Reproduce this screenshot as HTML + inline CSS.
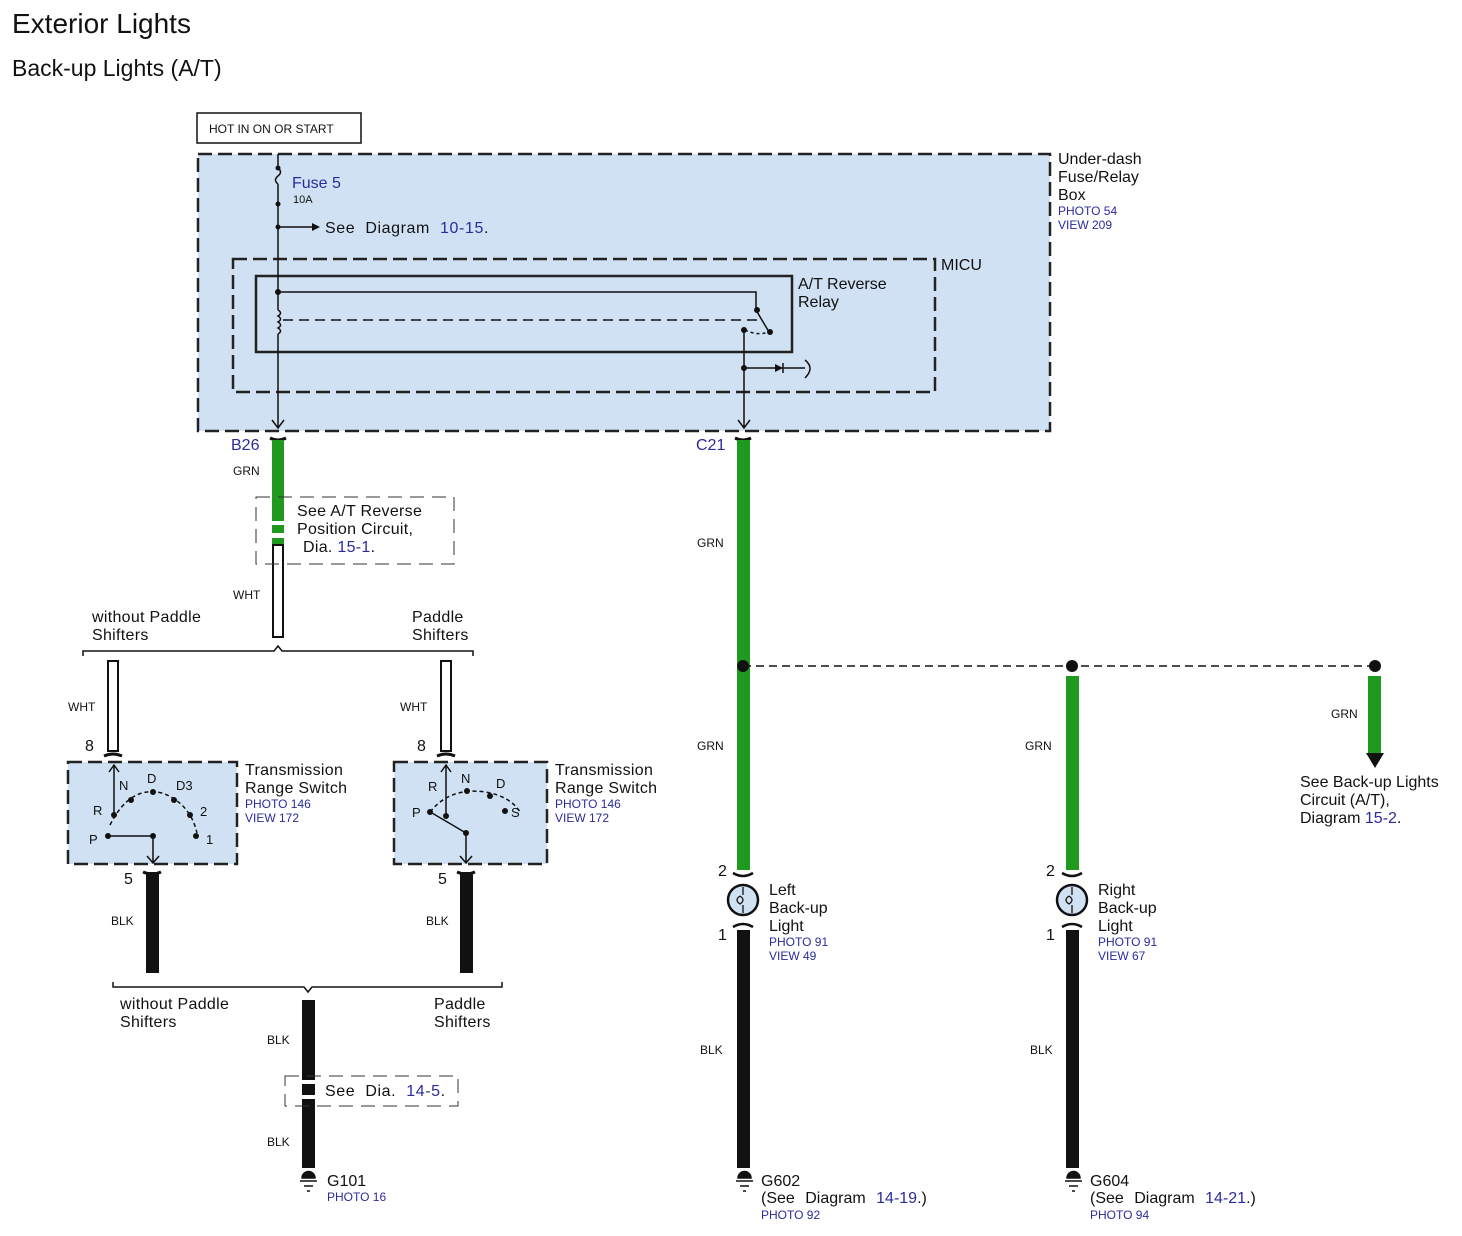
<!DOCTYPE html>
<html><head><meta charset="utf-8"><style>
html,body{margin:0;padding:0;background:#fff}
svg text{font-family:"Liberation Sans",sans-serif;fill:#111}
.b{fill:#2b2b9c}
</style></head><body>
<svg width="1462" height="1231" viewBox="0 0 1462 1231" xmlns="http://www.w3.org/2000/svg">
<text x="12" y="33" font-size="28">Exterior Lights</text>
<text x="12" y="76" font-size="23">Back-up Lights (A/T)</text>
<rect x="197" y="113" width="164" height="30" fill="#fff" stroke="#111" stroke-width="1.5"/>
<text x="209" y="133" font-size="12">HOT IN ON OR START</text>
<rect x="198" y="154" width="852" height="277" fill="#cfe1f3" stroke="#222" stroke-width="2.5" stroke-dasharray="14,6"/>
<rect x="233" y="259" width="702" height="133" fill="none" stroke="#222" stroke-width="2.5" stroke-dasharray="14,6"/>
<rect x="256" y="276" width="536" height="76" fill="none" stroke="#222" stroke-width="2.5"/>
<text x="1058" y="164" font-size="16">Under-dash</text>
<text x="1058" y="182" font-size="16">Fuse/Relay</text>
<text x="1058" y="200" font-size="16">Box</text>
<text x="1058" y="215" font-size="12" class="b">PHOTO 54</text>
<text x="1058" y="229" font-size="12" class="b">VIEW 209</text>
<text x="941" y="270" font-size="16">MICU</text>
<text x="798" y="289" font-size="16">A/T Reverse</text>
<text x="798" y="307" font-size="16">Relay</text>
<text x="292" y="188" font-size="16" class="b">Fuse 5</text>
<text x="293" y="203" font-size="11">10A</text>
<text x="325" y="233" font-size="16" letter-spacing="0.6" word-spacing="5">See Diagram <tspan class="b">10-15</tspan>.</text>
<g stroke="#111" stroke-width="1.5" fill="none">
<path d="M278 154 V168 M278 168 q5 4 0 8 q-5 4 0 8 M278 184 V310 M278 310 q5 3 0 6 q5 3 0 6 q5 3 0 6 q5 3 0 6 M278 334 V428"/>
<path d="M278 227 H312"/>
<path d="M278 292 H756 V310 L769 332"/>
<path d="M283 320 H760" stroke-dasharray="10,6"/>
<path d="M745 330 q12 6 24 2" stroke-dasharray="3,3"/>
<path d="M744 330 V428 M744 368 H805 M805 360 q10 8 0 18"/>
<path d="M272 420 L278 428 L284 420 M738 420 L744 428 L750 420"/>
</g>
<path d="M312 223 L320 227 L312 231Z" fill="#111"/>
<path d="M775 364 L783 368 L775 372Z" fill="#111"/><path d="M783 363 V373" stroke="#111" stroke-width="1.5"/>
<g fill="#111"><circle cx="278" cy="168" r="2.5"/><circle cx="278" cy="204" r="2.5"/><circle cx="278" cy="227" r="2.5"/><circle cx="278" cy="292" r="3"/><circle cx="757" cy="310" r="3"/><circle cx="770" cy="332" r="3"/><circle cx="744" cy="330" r="3"/><circle cx="744" cy="368" r="3"/></g>
<text x="231" y="450" font-size="16" class="b">B26</text>
<text x="233" y="475" font-size="12">GRN</text>
<path d="M270 438 q8 4 16 0" stroke="#111" stroke-width="3" fill="none"/>
<rect x="272" y="440" width="12" height="81" fill="#1f9a1f"/>
<rect x="272" y="525" width="12" height="8" fill="#1f9a1f"/>
<rect x="272" y="538" width="12" height="6" fill="#1f9a1f"/>
<rect x="273" y="545" width="10" height="92" fill="#fff" stroke="#111" stroke-width="2"/>
<rect x="256" y="497" width="198" height="67" fill="none" stroke="#333" stroke-width="1" stroke-dasharray="14,8"/>
<text x="297" y="516" font-size="16" letter-spacing="0.3">See A/T Reverse</text>
<text x="297" y="534" font-size="16" letter-spacing="0.3">Position Circuit,</text>
<text x="303" y="552" font-size="16" letter-spacing="0.3">Dia. <tspan class="b">15-1</tspan>.</text>
<text x="233" y="599" font-size="12">WHT</text>
<text x="92" y="622" font-size="16" letter-spacing="0.3">without Paddle</text>
<text x="92" y="640" font-size="16" letter-spacing="0.3">Shifters</text>
<text x="412" y="622" font-size="16" letter-spacing="0.3">Paddle</text>
<text x="412" y="640" font-size="16" letter-spacing="0.3">Shifters</text>
<path d="M83 656 V651 H274 L278 646 L282 651 H473 V656" stroke="#111" stroke-width="1.5" fill="none"/>
<rect x="108" y="661" width="10" height="90" fill="#fff" stroke="#111" stroke-width="2"/>
<rect x="441" y="661" width="10" height="90" fill="#fff" stroke="#111" stroke-width="2"/>
<path d="M104 756 q9 -4 18 0 M437 756 q9 -4 18 0" stroke="#111" stroke-width="3" fill="none"/>
<text x="68" y="711" font-size="12">WHT</text>
<text x="400" y="711" font-size="12">WHT</text>
<text x="85" y="751" font-size="16">8</text>
<text x="417" y="751" font-size="16">8</text>
<rect x="68" y="762" width="169" height="102" fill="#cfe1f3" stroke="#222" stroke-width="2.5" stroke-dasharray="14,6"/>
<rect x="394" y="762" width="153" height="102" fill="#cfe1f3" stroke="#222" stroke-width="2.5" stroke-dasharray="14,6"/>
<g stroke="#111" stroke-width="1.5" fill="none">
<path d="M114 815 V765 M109 772 L114 765 L119 772"/>
<path d="M110 825 q20 -40 52 -32 q28 10 35 40" stroke-dasharray="4,3"/>
<path d="M108 836 H153 V862 M147 856 L153 863 L159 856"/>
<path d="M446 816 V765 M441 772 L446 765 L451 772"/>
<path d="M430 812 q20 -25 55 -20 q25 4 35 20" stroke-dasharray="4,3"/>
<path d="M432 813 L466 833 V862 M460 856 L466 863 L472 856"/>
</g>
<g fill="#111">
<circle cx="114" cy="815" r="3"/><circle cx="131" cy="800" r="3"/><circle cx="153" cy="792" r="3"/><circle cx="174" cy="800" r="3"/><circle cx="190" cy="815" r="3"/><circle cx="196" cy="836" r="3"/><circle cx="108" cy="836" r="3"/><circle cx="153" cy="836" r="3"/>
<circle cx="446" cy="816" r="3"/><circle cx="467" cy="791" r="3"/><circle cx="490" cy="796" r="3"/><circle cx="505" cy="811" r="3"/><circle cx="430" cy="812" r="3"/><circle cx="466" cy="833" r="3"/>
</g>
<g font-size="13">
<text x="119" y="790">N</text><text x="147" y="783">D</text><text x="176" y="790">D3</text><text x="93" y="815">R</text><text x="200" y="816">2</text><text x="89" y="844">P</text><text x="206" y="844">1</text>
<text x="461" y="783">N</text><text x="496" y="788">D</text><text x="428" y="791">R</text><text x="412" y="817">P</text><text x="511" y="817">S</text>
</g>
<text x="245" y="775" font-size="16" letter-spacing="0.3">Transmission</text>
<text x="245" y="793" font-size="16" letter-spacing="0.3">Range Switch</text>
<text x="245" y="808" font-size="12" class="b">PHOTO 146</text>
<text x="245" y="822" font-size="12" class="b">VIEW 172</text>
<text x="555" y="775" font-size="16" letter-spacing="0.3">Transmission</text>
<text x="555" y="793" font-size="16" letter-spacing="0.3">Range Switch</text>
<text x="555" y="808" font-size="12" class="b">PHOTO 146</text>
<text x="555" y="822" font-size="12" class="b">VIEW 172</text>
<text x="124" y="884" font-size="16">5</text>
<text x="438" y="884" font-size="16">5</text>
<path d="M143 872 q9 4 18 0 M457 872 q9 4 18 0" stroke="#111" stroke-width="3" fill="none"/>
<rect x="146" y="872" width="13" height="101" fill="#111"/>
<rect x="460" y="872" width="13" height="101" fill="#111"/>
<text x="111" y="925" font-size="12">BLK</text>
<text x="426" y="925" font-size="12">BLK</text>
<path d="M113 982 V987 H304 L308 992 L312 987 H502 V982" stroke="#111" stroke-width="1.5" fill="none"/>
<text x="120" y="1009" font-size="16" letter-spacing="0.3">without Paddle</text>
<text x="120" y="1027" font-size="16" letter-spacing="0.3">Shifters</text>
<text x="434" y="1009" font-size="16" letter-spacing="0.3">Paddle</text>
<text x="434" y="1027" font-size="16" letter-spacing="0.3">Shifters</text>
<rect x="302" y="1000" width="13" height="80" fill="#111"/>
<rect x="302" y="1084" width="13" height="11" fill="#111"/>
<rect x="302" y="1099" width="13" height="69" fill="#111"/>
<rect x="285" y="1076" width="173" height="30" fill="none" stroke="#333" stroke-width="1" stroke-dasharray="14,8"/>
<text x="325" y="1096" font-size="16" letter-spacing="0.6" word-spacing="5">See Dia. <tspan class="b">14-5</tspan>.</text>
<text x="267" y="1044" font-size="12">BLK</text>
<text x="267" y="1146" font-size="12">BLK</text>
<g fill="#111" stroke="#111" stroke-width="1.5">
<path d="M302 1178 a6.5 6.5 0 0 1 13 0Z"/><path d="M300 1181 H317 M304 1186 H313 M307 1191 H310" fill="none"/>
<path d="M738 1178 a6.5 6.5 0 0 1 13 0Z"/><path d="M736 1181 H753 M740 1186 H749 M743 1191 H746" fill="none"/>
<path d="M1067 1178 a6.5 6.5 0 0 1 13 0Z"/><path d="M1065 1181 H1082 M1069 1186 H1078 M1072 1191 H1075" fill="none"/>
</g>
<text x="327" y="1186" font-size="16">G101</text>
<text x="327" y="1201" font-size="12" class="b">PHOTO 16</text>
<text x="696" y="450" font-size="16" class="b">C21</text>
<path d="M735 438 q8 4 16 0" stroke="#111" stroke-width="3" fill="none"/>
<rect x="737" y="440" width="13" height="430" fill="#1f9a1f"/>
<text x="697" y="547" font-size="12">GRN</text>
<text x="697" y="750" font-size="12">GRN</text>
<path d="M743 666 H1375" stroke="#111" stroke-width="1.5" stroke-dasharray="8,5"/>
<circle cx="743" cy="666" r="6" fill="#111"/><circle cx="1072" cy="666" r="6" fill="#111"/><circle cx="1375" cy="666" r="6" fill="#111"/>
<rect x="1066" y="676" width="13" height="194" fill="#1f9a1f"/>
<rect x="1368" y="676" width="13" height="78" fill="#1f9a1f"/>
<path d="M1366 753 H1384 L1375 768Z" fill="#111"/>
<text x="1025" y="750" font-size="12">GRN</text>
<text x="1331" y="718" font-size="12">GRN</text>
<text x="1300" y="787" font-size="16">See Back-up Lights</text>
<text x="1300" y="805" font-size="16">Circuit (A/T),</text>
<text x="1300" y="823" font-size="16">Diagram <tspan class="b">15-2</tspan>.</text>
<g stroke="#111" stroke-width="2.5">
<path d="M733 873 q10 6 20 0 M733 927 q10 -6 20 0 M1062 873 q10 6 20 0 M1062 927 q10 -6 20 0" fill="none"/>
<circle cx="743" cy="900" r="15" fill="#cfe1f3"/>
<circle cx="1072" cy="900" r="15" fill="#cfe1f3"/>
</g>
<g stroke="#111" stroke-width="1.3" fill="none">
<path d="M743 887 V895 M743 905 V913 M740 896 q6 4 0 8 q-6 -4 0 -8"/>
<path d="M1072 887 V895 M1072 905 V913 M1069 896 q6 4 0 8 q-6 -4 0 -8"/>
</g>
<text x="718" y="876" font-size="16">2</text>
<text x="718" y="940" font-size="16">1</text>
<text x="1046" y="876" font-size="16">2</text>
<text x="1046" y="940" font-size="16">1</text>
<rect x="737" y="930" width="13" height="238" fill="#111"/>
<rect x="1066" y="930" width="13" height="238" fill="#111"/>
<text x="700" y="1054" font-size="12">BLK</text>
<text x="1030" y="1054" font-size="12">BLK</text>
<text x="769" y="895" font-size="16">Left</text>
<text x="769" y="913" font-size="16">Back-up</text>
<text x="769" y="931" font-size="16">Light</text>
<text x="769" y="946" font-size="12" class="b">PHOTO 91</text>
<text x="769" y="960" font-size="12" class="b">VIEW 49</text>
<text x="1098" y="895" font-size="16">Right</text>
<text x="1098" y="913" font-size="16">Back-up</text>
<text x="1098" y="931" font-size="16">Light</text>
<text x="1098" y="946" font-size="12" class="b">PHOTO 91</text>
<text x="1098" y="960" font-size="12" class="b">VIEW 67</text>
<text x="761" y="1186" font-size="16">G602</text>
<text x="761" y="1203" font-size="16" word-spacing="6">(See Diagram <tspan class="b">14-19</tspan>.)</text>
<text x="761" y="1219" font-size="12" class="b">PHOTO 92</text>
<text x="1090" y="1186" font-size="16">G604</text>
<text x="1090" y="1203" font-size="16" word-spacing="6">(See Diagram <tspan class="b">14-21</tspan>.)</text>
<text x="1090" y="1219" font-size="12" class="b">PHOTO 94</text>
</svg>
</body></html>
